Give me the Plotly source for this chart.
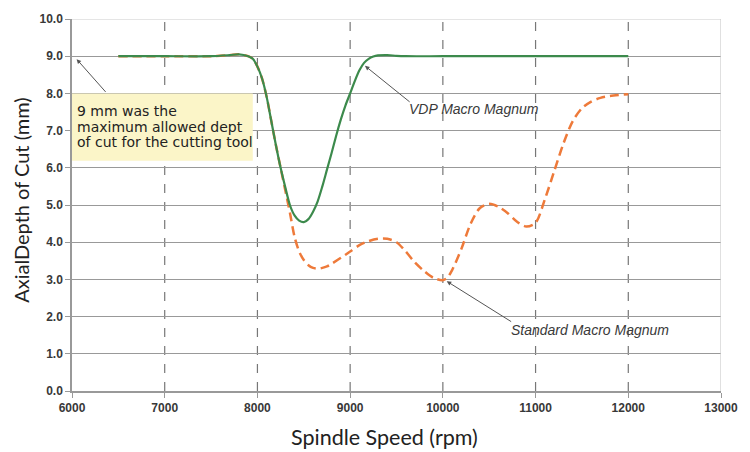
import plotly.graph_objects as go

# Spindle speed (rpm) and axial depth of cut (mm)
vdp_rpm = [6500, 7000, 7500, 7700, 7800, 7900, 7950, 8000, 8050, 8100, 8150, 8200, 8250, 8300,
           8350, 8400, 8450, 8500, 8550, 8600, 8650, 8700, 8750, 8800, 8850, 8900, 8950, 9000,
           9050, 9100, 9150, 9200, 9250, 9300, 9400, 9500, 9600, 10000, 11000, 12000]
vdp_depth = [9.0, 9.0, 9.0, 9.03, 9.05, 9.0, 8.93, 8.72, 8.4, 7.9, 7.25, 6.6, 6.0, 5.48,
             5.0, 4.72, 4.58, 4.54, 4.62, 4.82, 5.1, 5.5, 5.95, 6.4, 6.87, 7.3, 7.68, 8.0,
             8.33, 8.62, 8.82, 8.93, 8.99, 9.02, 9.03, 9.01, 9.0, 9.0, 9.0, 9.0]

std_rpm = [6500, 7000, 7500, 7700, 7800, 7900, 7950, 8000, 8050, 8100, 8150, 8200, 8250, 8300,
           8350, 8400, 8450, 8500, 8550, 8600, 8650, 8700, 8750, 8800, 8900, 9000, 9100, 9200,
           9300, 9400, 9500, 9600, 9700, 9800, 9900, 10000, 10050, 10100, 10200, 10300, 10400,
           10500, 10600, 10700, 10800, 10900, 11000, 11100, 11200, 11300, 11400, 11500, 11600,
           11700, 11800, 12000]
std_depth = [9.0, 9.0, 9.0, 9.03, 9.05, 9.0, 8.93, 8.72, 8.4, 7.9, 7.25, 6.6, 6.0, 5.4,
             4.8, 4.15, 3.75, 3.52, 3.38, 3.31, 3.29, 3.31, 3.35, 3.42, 3.58, 3.75, 3.92, 4.03,
             4.09, 4.09, 4.0, 3.75, 3.45, 3.22, 3.04, 2.98, 3.05, 3.25, 3.82, 4.5, 4.92,
             5.03, 4.95, 4.78, 4.55, 4.42, 4.52, 5.15, 5.9, 6.65, 7.25, 7.6, 7.78,
             7.88, 7.93, 7.98]

x_ticks = [6000, 7000, 8000, 9000, 10000, 11000, 12000, 13000]
y_ticks = [0, 1, 2, 3, 4, 5, 6, 7, 8, 9, 10]
note_lines = ["9 mm was the", "maximum allowed dept", "of cut for the cutting tool"]
note_line_y = [7.52, 7.11, 6.70]

fig = go.Figure()

fig.add_trace(go.Scatter(x=std_rpm, y=std_depth, mode="lines",
                         line=dict(color="#EE7A3A", width=2.5, dash="9px,5px", shape="spline",
                                   smoothing=0.8),
                         name="Standard Macro Magnum", showlegend=False))
fig.add_trace(go.Scatter(x=vdp_rpm, y=vdp_depth, mode="lines",
                         line=dict(color="#3C8A4C", width=2.2, shape="spline", smoothing=0.8),
                         name="VDP Macro Magnum", showlegend=False))

# vertical dashed grid lines
for xv in x_ticks[1:-1]:
    fig.add_shape(type="line", x0=xv, x1=xv, y0=0, y1=10, xref="x", yref="y",
                  line=dict(color="#777777", width=1.2, dash="dash"), layer="below")

# yellow note box
fig.add_shape(type="rect", x0=6000, x1=7950, y0=6.19, y1=8.0, xref="x", yref="y",
              fillcolor="#FBF5C8", line=dict(width=0), layer="above")

for txt, yy in zip(note_lines, note_line_y):
    fig.add_annotation(x=6030, y=yy, xref="x", yref="y", xanchor="left", yanchor="middle",
                       text=txt, showarrow=False, align="left",
                       font=dict(family="DejaVu Sans, sans-serif", size=14, color="#222222"))
fig.add_annotation(x=6050, y=8.92, ax=6377, ay=8.0, xref="x", yref="y", axref="x", ayref="y",
                   text="", showarrow=True, arrowhead=2, arrowsize=0.9, arrowwidth=1,
                   arrowcolor="#555555")

fig.add_annotation(x=9160, y=8.74, ax=9658, ay=7.74, xref="x", yref="y", axref="x", ayref="y",
                   text="", showarrow=True, arrowhead=2, arrowsize=0.9, arrowwidth=1,
                   arrowcolor="#555555")
fig.add_annotation(x=9615, y=7.58, xref="x", yref="y", xanchor="left", yanchor="middle",
                   text="<i>VDP Macro Magnum</i>", showarrow=False,
                   font=dict(family="Liberation Sans, Arial, sans-serif", size=14, color="#3a3a3a"))

fig.add_annotation(x=10042, y=2.95, ax=10753, ay=1.84, xref="x", yref="y", axref="x", ayref="y",
                   text="", showarrow=True, arrowhead=2, arrowsize=0.9, arrowwidth=1,
                   arrowcolor="#555555")
fig.add_annotation(x=10715, y=1.64, xref="x", yref="y", xanchor="left", yanchor="middle",
                   text="<i>Standard Macro Magnum</i>", showarrow=False,
                   font=dict(family="Liberation Sans, Arial, sans-serif", size=14, color="#3a3a3a"))

# axis titles
fig.add_annotation(x=0.481, y=-0.123, xref="paper", yref="paper", xanchor="center",
                   yanchor="middle", text="Spindle Speed (rpm)", showarrow=False,
                   font=dict(family="Lato, Noto Sans, sans-serif", size=21.5, color="#222222"))
fig.add_annotation(x=-0.0785, y=0.514, xref="paper", yref="paper", xanchor="center",
                   yanchor="middle", text="AxialDepth of Cut (mm)", showarrow=False, textangle=-90,
                   font=dict(family="Lato, Noto Sans, sans-serif", size=20, color="#222222"))

fig.update_layout(
    width=750, height=452,
    margin=dict(l=72, r=28, t=15, b=61),
    paper_bgcolor="white", plot_bgcolor="white",
    xaxis=dict(range=[6000, 13000], tickvals=x_ticks, ticktext=[str(v) for v in x_ticks],
               showgrid=False, zeroline=False, showline=True, linecolor="#999999",
               linewidth=1.5, ticks="outside", ticklen=5, tickcolor="#999999",
               tickfont=dict(family="Liberation Sans, Arial", size=12, color="#383838", weight="bold"),
               mirror=False),
    yaxis=dict(range=[0, 10], tickvals=y_ticks, ticktext=[f"{v:.1f}" for v in y_ticks],
               showgrid=True, gridcolor="#999999", gridwidth=1.3, zeroline=False,
               showline=True, linecolor="#999999", linewidth=1.5, ticks="outside", ticklen=5,
               tickcolor="#999999",
               tickfont=dict(family="Liberation Sans, Arial", size=12, color="#383838", weight="bold")),
)

# light frame on top and right
fig.add_shape(type="line", x0=6000, x1=13000, y0=10, y1=10, xref="x", yref="y",
              line=dict(color="#cccccc", width=1.2))
fig.add_shape(type="line", x0=13000, x1=13000, y0=0, y1=10, xref="x", yref="y",
              line=dict(color="#cccccc", width=1.2))

fig.write_html("out.html", config={"displayModeBar": False},
               post_script="document.body.style.margin='0';document.body.style.padding='0';")
